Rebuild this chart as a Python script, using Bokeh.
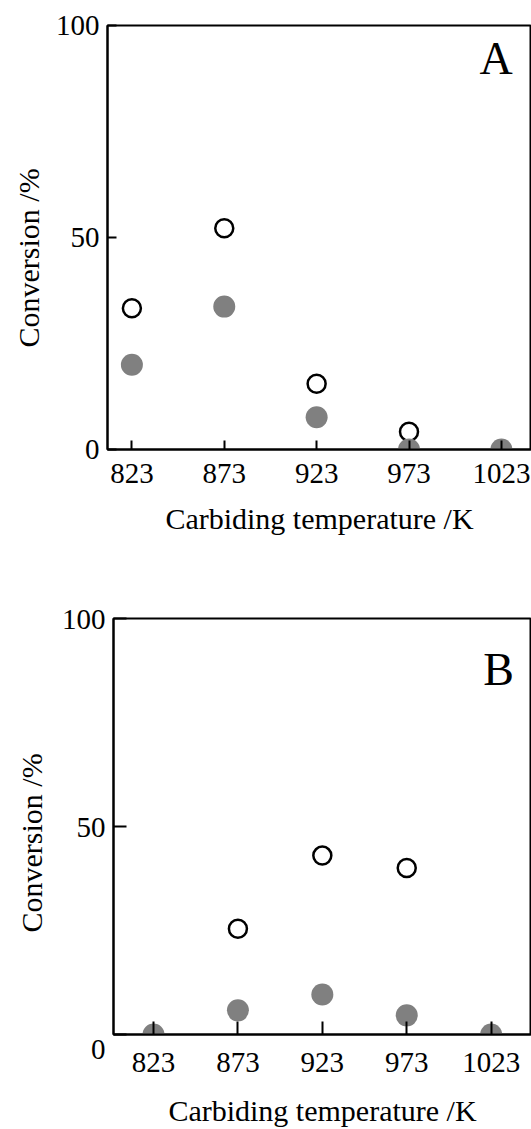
from bokeh.plotting import figure
from bokeh.layouts import column
from bokeh.models import Range1d, FixedTicker, Label, Title
from bokeh.embed import file_html
from bokeh.resources import INLINE

# Carbiding temperatures (K) used as x ticks
temps = [823, 873, 923, 973, 1023]
conv_ticks = [0, 50, 100]

# Panel A: conversion (%) vs carbiding temperature
a_open_t = [823, 873, 923, 973]
a_open_v = [33.3, 52.2, 15.5, 4.2]
a_fill_t = [823, 873, 923, 973, 1023]
a_fill_v = [20.0, 33.7, 7.6, 0.0, 0.0]

# Panel B
b_open_t = [873, 923, 973]
b_open_v = [25.4, 43.0, 40.0]
b_fill_t = [823, 873, 923, 973, 1023]
b_fill_v = [0.0, 5.8, 9.6, 4.6, 0.0]

SERIF = "Liberation Serif"
GREY = "#808080"


def make_panel(letter, open_t, open_v, fill_t, fill_v, x_lo, x_hi,
               height, left, top, bottom, tick_len,
               x_standoff, x_label_standoff, title_standoff,
               letter_x, letter_y, drop_zero):
    p = figure(width=531, height=height,
               x_range=Range1d(x_lo, x_hi), y_range=Range1d(0, 100),
               output_backend="svg", toolbar_location=None,
               min_border_left=left, min_border_right=0,
               min_border_top=top, min_border_bottom=bottom,
               frame_align=False)
    p.grid.visible = False
    p.background_fill_color = "white"
    p.border_fill_color = "white"
    p.outline_line_color = "black"
    p.outline_line_width = 2

    p.xaxis.ticker = FixedTicker(ticks=temps)
    p.yaxis.ticker = FixedTicker(ticks=conv_ticks)
    for ax in (p.xaxis[0], p.yaxis[0]):
        ax.axis_line_color = "black"
        ax.axis_line_width = 2
        ax.major_tick_line_color = "black"
        ax.major_tick_line_width = 2
        ax.major_tick_in = tick_len
        ax.major_tick_out = 0
        ax.minor_tick_line_color = None
        ax.major_label_text_font = SERIF
        ax.major_label_text_font_size = "29px"
        ax.major_label_text_color = "black"
        ax.axis_label_text_font = SERIF
        ax.axis_label_text_font_size = "30px"
        ax.axis_label_text_font_style = "normal"
        ax.axis_label_text_color = "black"

    p.xaxis.axis_label = "Carbiding temperature /K"
    p.xaxis.major_label_standoff = x_standoff
    p.xaxis.axis_label_standoff = x_label_standoff
    p.yaxis.major_label_standoff = 8
    if drop_zero:
        # push the "0" of this panel a little below its tick
        p.yaxis.major_label_overrides = {0: "\n0"}
        p.yaxis.major_label_text_line_height = 0.88

    # vertical title of the conversion axis, starting ~102 px above the x axis
    p.add_layout(Title(text="Conversion /%", align="left", offset=102,
                       text_font=SERIF, text_font_size="30px",
                       text_font_style="normal", text_color="black",
                       standoff=title_standoff), "left")

    p.scatter(open_t, open_v, marker="circle", size=18,
              fill_color="white", line_color="black", line_width=2.5)
    p.scatter(fill_t, fill_v, marker="circle", size=22,
              fill_color=GREY, line_color=GREY, line_width=0)

    p.add_layout(Label(x=letter_x, y=letter_y, text=letter,
                       text_font=SERIF, text_font_size="46px",
                       text_align="right", text_baseline="alphabetic",
                       text_color="black"))
    return p


pa = make_panel("A", a_open_t, a_open_v, a_fill_t, a_fill_v,
                809.8, 1039.3, 560, 107, 25, 111, 9, 14, 16, 16,
                1029.1, 92.1, False)
pb = make_panel("B", b_open_t, b_open_v, b_fill_t, b_fill_v,
                799.3, 1046.9, 569, 113, 58, 92, 13, 18, 19, 22,
                1036.5, 87.7, True)

layout = column(pa, pb, spacing=0)
open("out.html", "w").write(file_html(layout, INLINE))
